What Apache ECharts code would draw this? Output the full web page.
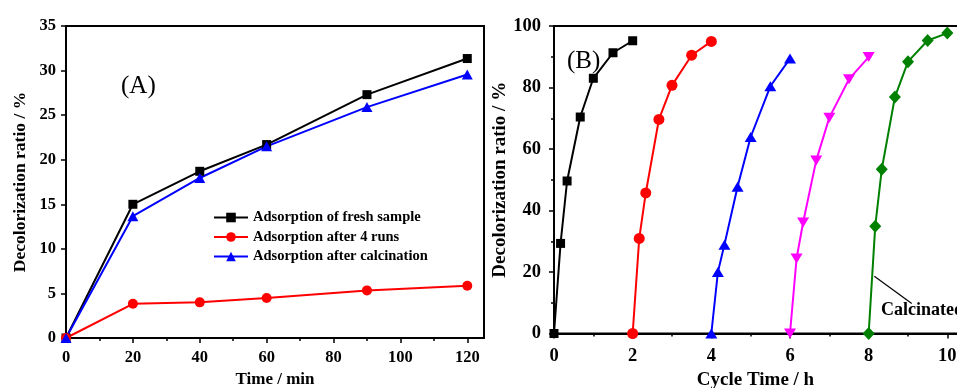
<!DOCTYPE html>
<html>
<head>
<meta charset="utf-8">
<script src="https://cdn.jsdelivr.net/npm/echarts@6/dist/echarts.min.js"></script>
<style>html,body{margin:0;padding:0;background:#fff}#c{width:957px;height:388px}</style>
</head>
<body>
<div id="c"></div>
<script>
// ---- Panel A data ----
const timeA = [0, 20, 40, 60, 90, 120];
const freshA = [0, 15.0, 18.7, 21.7, 27.3, 31.35];
const after4A = [0, 3.84, 4.0, 4.48, 5.34, 5.86];
const calcA = [0, 13.66, 17.95, 21.5, 25.9, 29.56];
const legendA = ['Adsorption of fresh sample', 'Adsorption after 4 runs', 'Adsorption after calcination'];
const xMajorA = [0, 20, 40, 60, 80, 100, 120];
const xMinorA = [10, 30, 50, 70, 90, 110];

// ---- Panel B data ----
const cycle1X = [0, 0.167, 0.333, 0.667, 1, 1.5, 2];
const cycle1Y = [0, 29.3, 49.6, 70.4, 83.0, 91.3, 95.2];
const cycle2X = [2, 2.167, 2.333, 2.667, 3, 3.5, 4];
const cycle2Y = [0, 30.9, 45.7, 69.6, 80.7, 90.5, 95.0];
const cycle3X = [4, 4.167, 4.333, 4.667, 5, 5.5, 6];
const cycle3Y = [0, 20.0, 28.9, 47.7, 63.9, 80.4, 89.4];
const cycle4X = [6, 6.167, 6.333, 6.667, 7, 7.5, 8];
const cycle4Y = [0, 24.4, 36.1, 56.3, 70.2, 82.7, 89.9];
const cycle5X = [8, 8.167, 8.333, 8.667, 9, 9.5, 10];
const cycle5Y = [0, 34.9, 53.4, 76.9, 88.4, 95.3, 97.7];
const calcPointer = [[8.144, 18.6], [9.095, 9.75]];

const zip = (xs, ys) => xs.map((x, i) => [x, ys[i]]);
const FONT = 'Liberation Serif';
const chart = echarts.init(document.getElementById('c'));

const axisLine = { show: true, lineStyle: { color: '#000', width: 2 } };
const tick = (len) => ({ show: true, inside: false, length: len, lineStyle: { color: '#000', width: 1.5 } });
const lbl = (size, margin) => ({ color: '#000', fontFamily: FONT, fontWeight: 'bold', fontSize: size, margin: margin });
const nameStyle = (size) => ({ color: '#000', fontFamily: FONT, fontWeight: 'bold', fontSize: size });

function lineSeries(name, xi, yi, data, color, symbol, size, extra) {
  return Object.assign({
    name: name, type: 'line', xAxisIndex: xi, yAxisIndex: yi, data: data,
    symbol: symbol, symbolSize: size, showSymbol: true,
    lineStyle: { color: color, width: 2 }, itemStyle: { color: color },
    emphasis: { disabled: true }, animation: false
  }, extra || {});
}

const option = {
  animation: false,
  backgroundColor: '#fff',
  grid: [
    { left: 66, top: 26, width: 418, height: 312, show: true, borderColor: '#000', borderWidth: 2, containLabel: false, outerBoundsMode: 'none' },
    { left: 554, top: 26, width: 413, height: 307.5, show: true, borderColor: '#000', borderWidth: 2, containLabel: false, outerBoundsMode: 'none' }
  ],
  legend: {
    orient: 'vertical', left: 208, top: 204, itemWidth: 34, itemHeight: 12, itemGap: 2.5,
    textStyle: { color: '#000', fontFamily: FONT, fontWeight: 'bold', fontSize: 14.5, lineHeight: 17 },
    data: legendA
  },
  xAxis: [
    {
      type: 'value', gridIndex: 0, min: 0, max: 125, interval: 20,
      axisLine: axisLine, axisTick: Object.assign(tick(5), { customValues: xMajorA }),
      axisLabel: Object.assign(lbl(16.5, 11), { customValues: xMajorA }),
      splitLine: { show: false },
      name: 'Time / min', nameLocation: 'middle', nameGap: 32, nameTextStyle: nameStyle(17)
    },
    {
      type: 'value', gridIndex: 0, min: 0, max: 125, position: 'bottom',
      axisLine: { show: false }, axisTick: Object.assign(tick(3), { customValues: xMinorA }),
      axisLabel: { show: false }, splitLine: { show: false }
    },
    {
      type: 'value', gridIndex: 1, min: 0, max: 10.5, interval: 2,
      axisLine: axisLine, axisTick: tick(5),
      minorTick: { show: true, splitNumber: 2, length: 3, lineStyle: { color: '#000', width: 1.5 } },
      axisLabel: Object.assign(lbl(18.5, 13), { showMaxLabel: false }),
      splitLine: { show: false },
      name: 'Cycle Time / h', nameLocation: 'middle', nameGap: 36, nameTextStyle: Object.assign(nameStyle(19), { padding: [0, 10, 0, 0] })
    }
  ],
  yAxis: [
    {
      type: 'value', gridIndex: 0, min: 0, max: 35, interval: 5,
      axisLine: axisLine, axisTick: tick(5), axisLabel: lbl(16.5, 10), splitLine: { show: false },
      name: 'Decolorization ratio / %', nameLocation: 'middle', nameGap: 37, nameTextStyle: nameStyle(17.5)
    },
    {
      type: 'value', gridIndex: 1, min: 0, max: 100, interval: 20,
      axisLine: axisLine, axisTick: tick(5),
      minorTick: { show: true, splitNumber: 2, length: 3, lineStyle: { color: '#000', width: 1.5 } },
      axisLabel: lbl(18.5, 13), splitLine: { show: false },
      name: 'Decolorization ratio / %', nameLocation: 'middle', nameGap: 40, nameTextStyle: nameStyle(19)
    }
  ],
  graphic: [
    { type: 'text', left: 121, top: 74, style: { text: '(A)', font: 'normal 25px "Liberation Serif"', fill: '#000' } },
    { type: 'text', left: 567, top: 49, z: 0, style: { text: '(B)', font: 'normal 25px "Liberation Serif"', fill: '#000' } },
    { type: 'text', left: 881, top: 301, style: { text: 'Calcinated', font: 'bold 18px "Liberation Serif"', fill: '#000' } }
  ],
  series: [
    lineSeries(legendA[0], 0, 0, zip(timeA, freshA), '#000000', 'rect', 9),
    lineSeries(legendA[1], 0, 0, zip(timeA, after4A), '#ff0000', 'circle', 10),
    lineSeries(legendA[2], 0, 0, zip(timeA, calcA), '#0000ff', 'triangle', [11, 10]),
    lineSeries('c1', 2, 1, zip(cycle1X, cycle1Y), '#000000', 'rect', 9),
    lineSeries('c2', 2, 1, zip(cycle2X, cycle2Y), '#ff0000', 'circle', 11),
    lineSeries('c3', 2, 1, zip(cycle3X, cycle3Y), '#0000ff', 'triangle', [12, 10]),
    lineSeries('c4', 2, 1, zip(cycle4X, cycle4Y), '#ff00ff', 'triangle', [12, 10], { symbolRotate: 180 }),
    lineSeries('c5', 2, 1, zip(cycle5X, cycle5Y), '#008000', 'diamond', [12, 13], {
      markLine: {
        silent: true, symbol: 'none', animation: false,
        label: { show: false },
        lineStyle: { color: '#000', width: 1.2, type: 'solid' },
        data: [[{ coord: calcPointer[0] }, { coord: calcPointer[1] }]]
      }
    })
  ]
};
chart.setOption(option);
</script>
</body>
</html>
